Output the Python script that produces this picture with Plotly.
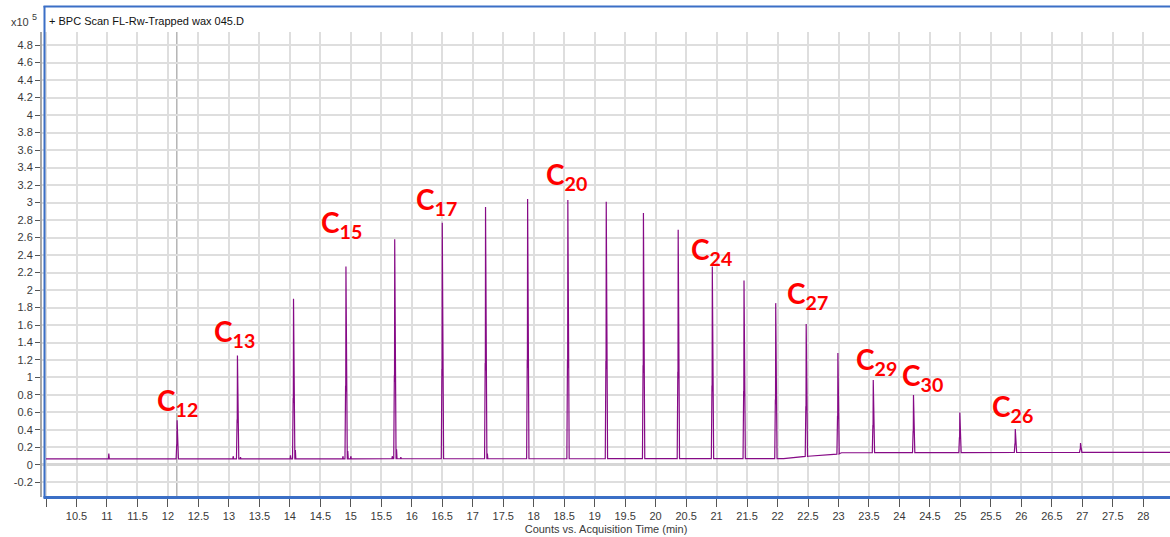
import numpy as np
import plotly.graph_objects as go

# ---------------- data ----------------
# main n-alkane peaks: retention time (min) and height (x10^5 counts)
peak_times = [12.15, 13.14, 14.06, 14.92, 15.72, 16.50, 17.21, 17.90, 18.56, 19.19, 19.80,
              20.37, 20.93, 21.45, 21.97, 22.47, 22.99, 23.57, 24.23, 24.99, 25.90, 26.97]
peak_heights = [0.51, 1.25, 1.90, 2.27, 2.58, 2.77, 2.95, 3.04, 3.03, 3.01, 2.88,
                2.69, 2.27, 2.11, 1.85, 1.61, 1.28, 0.97, 0.80, 0.60, 0.41, 0.25]
# small side peaks
minor_times = [11.03, 13.07, 13.19, 14.01, 14.09, 14.87, 14.95, 15.00, 15.68, 15.75, 15.82, 17.24]
minor_heights = [0.13, 0.10, 0.09, 0.11, 0.17, 0.10, 0.16, 0.10, 0.10, 0.18, 0.09, 0.13]
# baseline breakpoints
baseline_times = [10.0, 22.10, 22.20, 22.50, 23.00, 23.05, 28.45]
baseline_values = [0.070, 0.072, 0.080, 0.100, 0.125, 0.140, 0.145]

# peak labels
label_names = ["12", "13", "15", "17", "20", "24", "27", "29", "30", "26"]
label_times = [12.15, 13.09, 14.84, 16.41, 18.535, 20.92, 22.49, 23.63, 24.37, 25.86]
label_values = [0.72, 1.51, 2.76, 3.02, 3.30, 2.45, 1.94, 1.19, 1.01, 0.65]

x_tick_vals = [10 + 0.5 * i for i in range(37)]
x_tick_text = [""] + [("%g" % v) for v in x_tick_vals[1:]]
y_tick_vals = [round(-0.2 + 0.2 * i, 1) for i in range(26)]
y_tick_text = [("%g" % v) for v in y_tick_vals]

title_text = "+ BPC Scan FL-Rw-Trapped wax 045.D"
x_title = "Counts vs. Acquisition Time (min)"

# ---------------- build trace ----------------
def base(t):
    return float(np.interp(t, baseline_times, baseline_values))

events = []
for t, h in zip(peak_times, peak_heights):
    b = base(t)
    events.append([(t - 0.016, b), (t - 0.006, b + 0.38 * (h - b)), (t - 0.003, b + 0.35 * (h - b)),
                   (t, h), (t + 0.005, b + 0.55 * (h - b)), (t + 0.012, b + 0.06 * (h - b)),
                   (t + 0.022, b)])
for t, h in zip(minor_times, minor_heights):
    b = base(t)
    events.append([(t - 0.006, b), (t, h), (t + 0.008, b)])
for t, v in zip(baseline_times, baseline_values):
    events.append([(t, v)])
events.sort(key=lambda e: e[0][0])
xs, ys = [], []
for e in events:
    for (a, b) in e:
        xs.append(a)
        ys.append(b)

# ---------------- figure ----------------
W, H = 1170, 537
ML, MR, MT, MB = 42, 0, 32, 40
PW, PH = W - ML - MR, H - MT - MB

def px(xp):
    return (xp - ML) / PW

def py(yp):
    return (H - MB - yp) / PH

fig = go.Figure()
fig.add_trace(go.Scatter(x=xs, y=ys, mode="lines",
                         line=dict(color="#860a86", width=1.2), hoverinfo="skip",
                         showlegend=False))

font_axis = dict(family="Liberation Sans, Arial, sans-serif", size=11, color="#3a3a3a")

fig.update_layout(
    width=W, height=H,
    margin=dict(l=ML, r=MR, t=MT, b=MB),
    paper_bgcolor="white", plot_bgcolor="white",
    showlegend=False,
    xaxis=dict(range=[9.934, 28.438], tickmode="array", tickvals=x_tick_vals, ticktext=x_tick_text,
               showgrid=True, gridcolor="#dedede", gridwidth=1.5, zeroline=False,
               ticks="outside", ticklen=9, tickcolor="#555555", tickwidth=1,
               tickfont=font_axis, showline=False,
               title=dict(text=x_title, font=font_axis, standoff=4)),
    yaxis=dict(range=[-0.366, 4.949], tickmode="array", tickvals=y_tick_vals, ticktext=y_tick_text,
               showgrid=True, gridcolor="#dedede", gridwidth=1.5,
               zeroline=True, zerolinecolor="#d6d6d6", zerolinewidth=3,
               ticks="outside", ticklen=5, tickcolor="#555555", tickwidth=1,
               tickfont=font_axis, showline=True, linecolor="#a8a8a8", linewidth=2),
)

shapes = []
# cursor line
shapes.append(dict(type="line", xref="x", yref="paper", x0=12.145, x1=12.145, y0=0, y1=1,
                   line=dict(color="#b4b4b4", width=1.5), layer="below"))
# blue frame (left, top, bottom)
blue = "#3b6fc6"
shapes.append(dict(type="line", xref="paper", yref="paper", x0=px(44.5), x1=px(44.5), y0=py(498), y1=py(6),
                   line=dict(color=blue, width=2)))
shapes.append(dict(type="line", xref="paper", yref="paper", x0=px(43.5), x1=px(1170), y0=py(6.5), y1=py(6.5),
                   line=dict(color=blue, width=2)))
shapes.append(dict(type="line", xref="paper", yref="paper", x0=px(43.5), x1=px(1170), y0=py(497.5), y1=py(497.5),
                   line=dict(color=blue, width=3)))
fig.update_layout(shapes=shapes)

ann = []
ann.append(dict(xref="paper", yref="paper", x=px(47), y=py(20.5), xanchor="left", yanchor="middle",
                text=title_text, showarrow=False,
                font=dict(family="Liberation Sans, Arial, sans-serif", size=11, color="#111111")))
ann.append(dict(xref="paper", yref="paper", x=px(9), y=py(21.5), xanchor="left", yanchor="middle",
                text="x10", showarrow=False,
                font=dict(family="Liberation Sans, Arial, sans-serif", size=11, color="#3a3a3a")))
ann.append(dict(xref="paper", yref="paper", x=px(30), y=py(17), xanchor="left", yanchor="middle",
                text="5", showarrow=False,
                font=dict(family="Liberation Sans, Arial, sans-serif", size=9, color="#3a3a3a")))
for name, t, v in zip(label_names, label_times, label_values):
    ann.append(dict(xref="x", yref="y", x=t, y=v, xanchor="center", yanchor="middle",
                    text="<b>C<sub>%s</sub></b>" % name, showarrow=False,
                    font=dict(family="Lato, Open Sans, sans-serif", size=28, color="#ff0000")))
fig.update_layout(annotations=ann)

fig.write_html("out.html")
